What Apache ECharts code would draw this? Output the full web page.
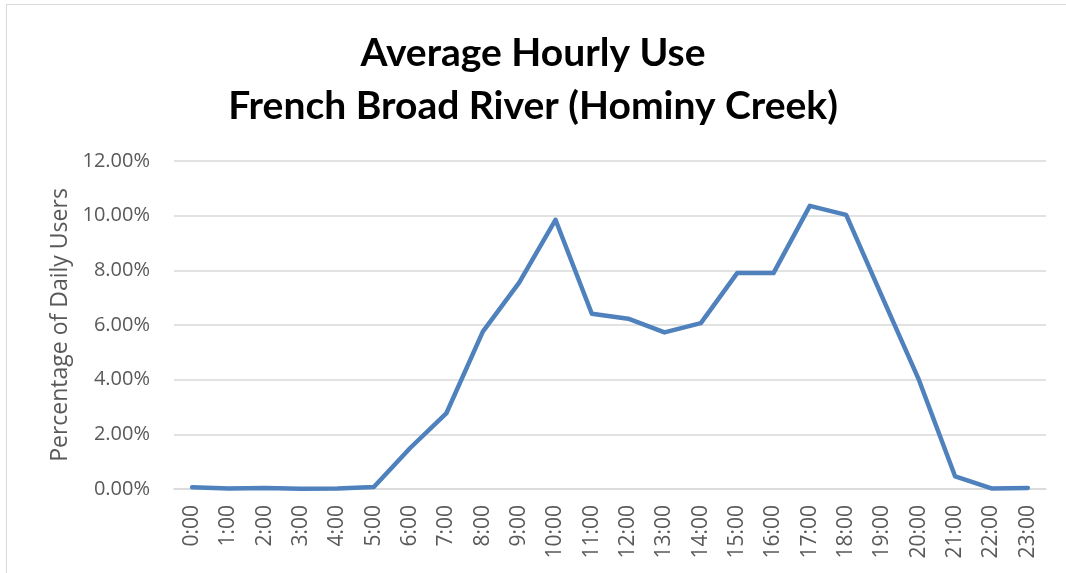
<!DOCTYPE html>
<html>
<head>
<meta charset="utf-8">
<script src="https://cdn.jsdelivr.net/npm/echarts@6/dist/echarts.min.js"></script>
<style>
    html, body { margin: 0; padding: 0; background: #fff; }
    #frame { position: absolute; left: 6px; top: 4px; width: 1070px; height: 580px; border: 1px solid #d9d9d9; }
    #hourly-use { position: absolute; left: 0; top: 0; width: 1066px; height: 573px; }
</style>
</head>
<body>
<div id="frame"></div>
<div id="hourly-use"></div>
<script>
    // hours of the day
    var hours = ['0:00', '1:00', '2:00', '3:00', '4:00', '5:00', '6:00', '7:00', '8:00', '9:00', '10:00', '11:00',
        '12:00', '13:00', '14:00', '15:00', '16:00', '17:00', '18:00', '19:00', '20:00', '21:00', '22:00', '23:00'];
    // share of daily users, in percent
    var usePct = [0.06, 0.02, 0.04, 0.01, 0.02, 0.07, 1.50, 2.78, 5.76, 7.55, 9.85, 6.41,
        6.23, 5.73, 6.07, 7.90, 7.90, 10.36, 10.03, 7.00, 4.00, 0.46, 0.02, 0.04];
    var titleLines = ['Average Hourly Use', 'French Broad River (Hominy Creek)'];
    var yName = 'Percentage of Daily Users';

    var chart = echarts.init(document.getElementById('hourly-use'));
    chart.setOption({
        animation: false,
        title: {
            text: titleLines.join('\n'),
            left: 'center',
            top: 22,
            textStyle: {
                fontFamily: 'Lato',
                fontWeight: 'bold',
                fontSize: 39,
                lineHeight: 53,
                color: '#000'
            }
        },
        grid: {
            left: 174,
            right: 20,
            top: 161,
            bottom: 84,
            containLabel: false
        },
        xAxis: {
            type: 'category',
            boundaryGap: true,
            data: hours,
            axisLine: { show: true, lineStyle: { color: '#d9d9d9', width: 1.5 } },
            axisTick: { show: false },
            axisLabel: {
                rotate: 90,
                margin: 16,
                fontFamily: 'Open Sans',
                fontSize: 21,
                color: '#595959'
            }
        },
        yAxis: {
            type: 'value',
            min: 0,
            max: 12,
            interval: 2,
            name: yName,
            nameLocation: 'middle',
            nameGap: 102,
            nameTextStyle: {
                fontFamily: 'Open Sans',
                fontSize: 23,
                color: '#595959'
            },
            axisLine: { show: false },
            axisTick: { show: false },
            axisLabel: {
                margin: 24,
                fontFamily: 'Open Sans',
                fontSize: 20,
                color: '#595959',
                formatter: function (v) { return v.toFixed(2) + '%'; }
            },
            splitLine: { lineStyle: { color: '#d9d9d9', width: 1.5 } }
        },
        series: [
            {
                name: 'Use',
                type: 'line',
                data: usePct,
                showSymbol: false,
                lineStyle: { color: '#4f81bd', width: 4.5, join: 'round', cap: 'round' }
            }
        ]
    });
</script>
</body>
</html>
